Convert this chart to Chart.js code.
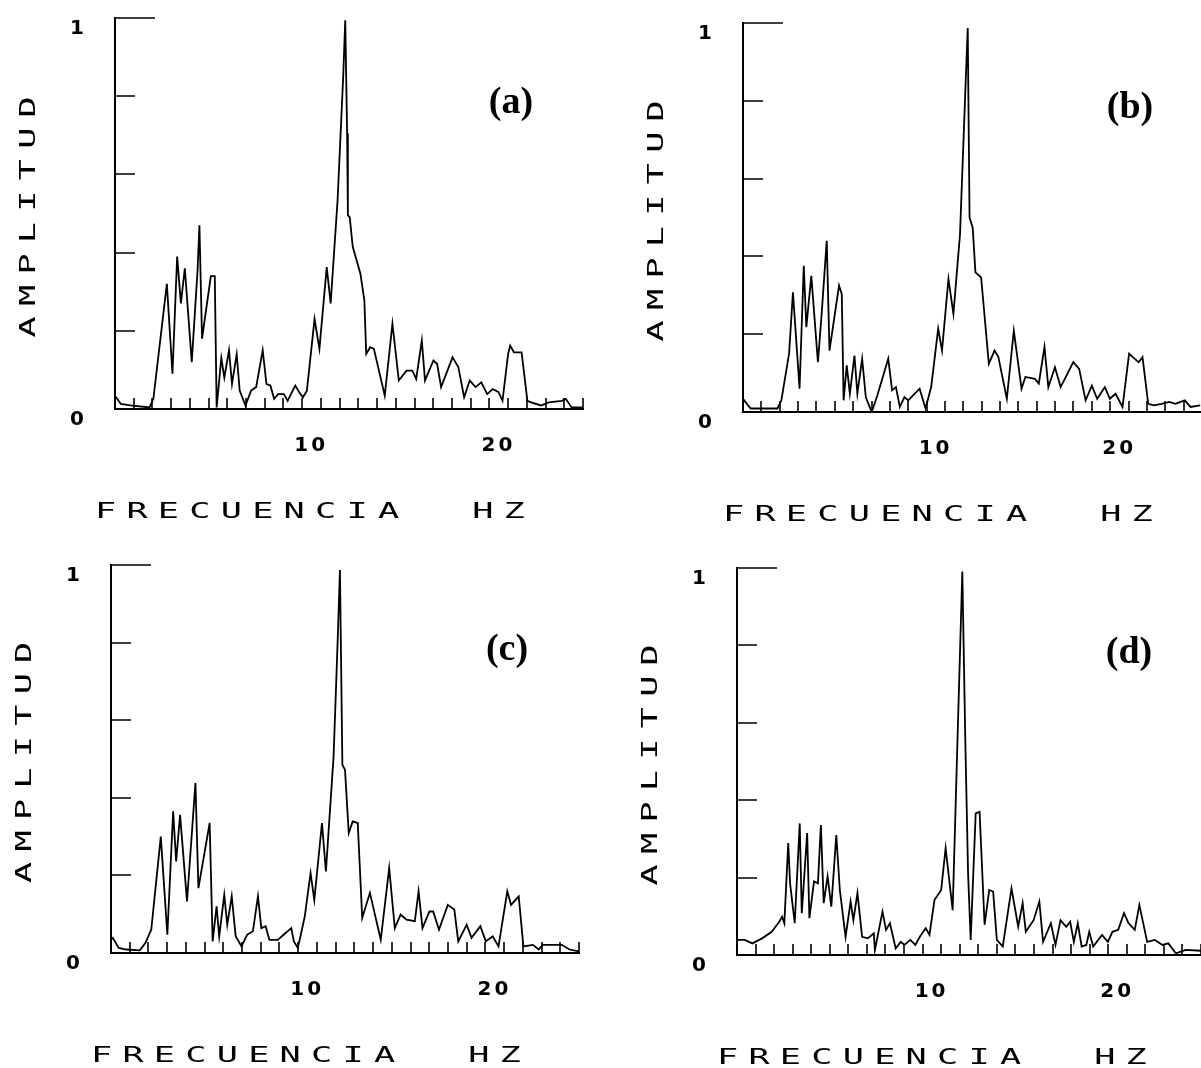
<!DOCTYPE html>
<html>
<head>
<meta charset="utf-8">
<script src="https://cdn.jsdelivr.net/npm/chart.js"></script>
<style>
  html, body { margin: 0; background: #fff; }
  body { width: 1201px; height: 1068px; position: relative; overflow: hidden; }
  canvas { position: absolute; }
</style>
</head>
<body>
<canvas id="panelA" width="600" height="534" style="left:0;top:0"></canvas>
<canvas id="panelB" width="620" height="534" style="left:600px;top:0"></canvas>
<canvas id="panelC" width="600" height="534" style="left:0;top:534px"></canvas>
<canvas id="panelD" width="620" height="534" style="left:600px;top:534px"></canvas>
<script>
// spectra (frequency in Hz, normalised amplitude)
const freqA = [0, 0.31, 0.82, 1.84, 2.05, 2.77, 3.07, 3.32, 3.52, 3.73, 4.10, 4.41, 4.51, 4.65, 5.12, 5.33, 5.43, 5.68, 5.84, 6.09, 6.25, 6.50, 6.66, 6.97, 7.27, 7.54, 7.89, 8.09, 8.30, 8.50, 8.71, 9.02, 9.22, 9.63, 9.84, 10.04, 10.25, 10.66, 10.92, 11.31, 11.52, 11.89, 12.19, 12.30, 12.40, 12.44, 12.54, 12.70, 13.11, 13.32, 13.42, 13.63, 13.83, 14.41, 14.82, 15.16, 15.57, 15.88, 16.09, 16.39, 16.56, 17.01, 17.21, 17.42, 18.03, 18.34, 18.65, 18.95, 19.26, 19.57, 19.88, 20.18, 20.49, 20.70, 21.00, 21.11, 21.31, 21.72, 22.03, 22.23, 22.75, 23.16, 23.87, 24.08, 24.39, 25.0];
const ampA = [0.034, 0.013, 0.009, 0.004, 0.026, 0.32, 0.09, 0.39, 0.27, 0.36, 0.12, 0.355, 0.47, 0.18, 0.34, 0.34, 0.004, 0.13, 0.08, 0.15, 0.064, 0.14, 0.047, 0.009, 0.047, 0.056, 0.15, 0.064, 0.06, 0.026, 0.038, 0.038, 0.021, 0.06, 0.043, 0.03, 0.047, 0.23, 0.154, 0.363, 0.27, 0.534, 0.85, 0.994, 0.705, 0.496, 0.49, 0.415, 0.346, 0.278, 0.141, 0.158, 0.154, 0.034, 0.218, 0.073, 0.098, 0.098, 0.077, 0.175, 0.073, 0.124, 0.115, 0.056, 0.132, 0.107, 0.03, 0.073, 0.056, 0.068, 0.038, 0.051, 0.043, 0.021, 0.141, 0.162, 0.145, 0.145, 0.021, 0.017, 0.009, 0.017, 0.021, 0.026, 0.004, 0.004];

const freqB = [0, 0.21, 0.42, 1.88, 2.09, 2.51, 2.72, 3.08, 3.31, 3.45, 3.72, 4.08, 4.29, 4.56, 4.71, 5.23, 5.38, 5.48, 5.65, 5.82, 6.07, 6.23, 6.49, 6.69, 7.01, 7.32, 7.91, 8.12, 8.33, 8.54, 8.79, 9.0, 9.62, 9.94, 10.25, 10.63, 10.84, 11.19, 11.46, 11.82, 12.09, 12.24, 12.34, 12.51, 12.66, 12.97, 13.39, 13.70, 13.91, 14.37, 14.75, 15.17, 15.38, 15.90, 16.11, 16.42, 16.63, 16.99, 17.30, 17.99, 18.31, 18.66, 19.0, 19.29, 19.71, 19.98, 20.29, 20.67, 21.03, 21.23, 21.55, 21.76, 22.07, 22.38, 22.80, 23.22, 23.54, 24.06, 24.37, 24.9];
const ampB = [0.034, 0.021, 0.009, 0.009, 0.03, 0.15, 0.308, 0.06, 0.376, 0.218, 0.35, 0.128, 0.256, 0.44, 0.158, 0.325, 0.303, 0.03, 0.12, 0.047, 0.145, 0.047, 0.137, 0.038, 0.0, 0.043, 0.137, 0.056, 0.064, 0.013, 0.038, 0.03, 0.06, 0.009, 0.064, 0.214, 0.158, 0.342, 0.252, 0.457, 0.8, 0.987, 0.5, 0.474, 0.359, 0.346, 0.124, 0.158, 0.141, 0.034, 0.209, 0.06, 0.09, 0.085, 0.073, 0.167, 0.064, 0.115, 0.064, 0.128, 0.111, 0.03, 0.068, 0.034, 0.064, 0.034, 0.047, 0.013, 0.15, 0.141, 0.128, 0.141, 0.021, 0.017, 0.021, 0.026, 0.021, 0.03, 0.013, 0.017];

const freqC = [0, 0.10, 0.41, 0.82, 1.54, 1.84, 2.15, 2.66, 3.01, 3.32, 3.48, 3.69, 4.06, 4.51, 4.67, 5.27, 5.43, 5.64, 5.78, 6.05, 6.21, 6.45, 6.66, 6.97, 7.27, 7.58, 7.85, 8.03, 8.26, 8.46, 8.91, 9.22, 9.63, 9.77, 9.98, 10.14, 10.35, 10.66, 10.86, 11.27, 11.48, 11.89, 12.11, 12.23, 12.36, 12.50, 12.70, 12.91, 13.18, 13.42, 13.83, 14.41, 14.86, 15.16, 15.47, 15.78, 16.23, 16.43, 16.64, 17.01, 17.21, 17.52, 17.99, 18.34, 18.55, 19.0, 19.26, 19.73, 20.02, 20.39, 20.70, 21.17, 21.37, 21.78, 22.03, 22.54, 22.85, 23.05, 23.67, 24.08, 24.49, 25.0];
const ampC = [0.034, 0.039, 0.013, 0.009, 0.007, 0.026, 0.06, 0.30, 0.047, 0.365, 0.236, 0.356, 0.133, 0.438, 0.167, 0.335, 0.03, 0.12, 0.043, 0.15, 0.073, 0.146, 0.043, 0.017, 0.047, 0.056, 0.146, 0.064, 0.069, 0.034, 0.034, 0.047, 0.064, 0.03, 0.013, 0.047, 0.094, 0.206, 0.137, 0.335, 0.21, 0.506, 0.807, 0.987, 0.485, 0.472, 0.309, 0.339, 0.335, 0.09, 0.155, 0.034, 0.219, 0.064, 0.099, 0.086, 0.082, 0.159, 0.064, 0.107, 0.107, 0.06, 0.124, 0.112, 0.03, 0.073, 0.039, 0.069, 0.03, 0.043, 0.017, 0.159, 0.124, 0.146, 0.017, 0.021, 0.009, 0.021, 0.021, 0.021, 0.009, 0.004];

const freqD = [0, 0.41, 0.83, 1.35, 1.87, 2.28, 2.43, 2.55, 2.76, 2.86, 3.11, 3.38, 3.49, 3.78, 3.90, 4.15, 4.36, 4.52, 4.67, 4.88, 5.08, 5.35, 5.54, 5.85, 6.12, 6.27, 6.49, 6.74, 7.05, 7.37, 7.43, 7.84, 8.03, 8.24, 8.55, 8.82, 9.02, 9.34, 9.61, 9.85, 10.17, 10.37, 10.64, 11.0, 11.24, 11.62, 11.89, 12.14, 12.30, 12.45, 12.59, 12.86, 13.07, 13.34, 13.59, 13.80, 14.0, 14.32, 14.79, 15.15, 15.39, 15.56, 15.98, 16.29, 16.49, 16.91, 17.16, 17.43, 17.74, 17.95, 18.15, 18.36, 18.57, 18.82, 18.98, 19.19, 19.67, 19.98, 20.23, 20.54, 20.85, 21.1, 21.43, 21.68, 22.10, 22.51, 22.93, 23.24, 23.65, 24.17, 25.0];
const ampD = [0.039, 0.039, 0.03, 0.043, 0.06, 0.086, 0.099, 0.082, 0.289, 0.185, 0.082, 0.34, 0.108, 0.315, 0.095, 0.19, 0.185, 0.336, 0.134, 0.203, 0.125, 0.31, 0.168, 0.047, 0.138, 0.09, 0.16, 0.047, 0.043, 0.056, 0.013, 0.112, 0.065, 0.082, 0.017, 0.034, 0.026, 0.039, 0.026, 0.047, 0.069, 0.052, 0.142, 0.168, 0.276, 0.116, 0.573, 0.991, 0.556, 0.211, 0.039, 0.366, 0.37, 0.078, 0.168, 0.164, 0.039, 0.022, 0.172, 0.073, 0.134, 0.06, 0.09, 0.138, 0.034, 0.082, 0.026, 0.09, 0.073, 0.086, 0.034, 0.082, 0.022, 0.026, 0.06, 0.022, 0.052, 0.034, 0.06, 0.065, 0.108, 0.082, 0.065, 0.129, 0.034, 0.039, 0.026, 0.03, 0.004, 0.013, 0.011];

const xTickLabels = [10, 20];
const yTickLabels = [0, 1];
const xTitle = "FRECUENCIA  HZ";
const yTitle = "AMPLITUD";

// plotter look: inward tick marks, stretched letters, panel tag
const plotter = {
  id: "plotter",
  beforeDraw(chart) {
    chart.ctx.letterSpacing = "3px";
  },
  afterDatasetsDraw(chart) {
    const { ctx, chartArea: a, scales: { x, y } } = chart;
    ctx.save();
    ctx.strokeStyle = "#000";
    ctx.lineWidth = 1.6;
    ctx.beginPath();
    x.ticks.forEach(t => {
      if (t.value <= 0) return;
      const px = Math.round(x.getPixelForValue(t.value));
      ctx.moveTo(px, a.bottom);
      ctx.lineTo(px, a.bottom - 11);
    });
    y.ticks.forEach(t => {
      if (t.value <= 0) return;
      const py = Math.round(y.getPixelForValue(t.value));
      ctx.moveTo(a.left, py);
      ctx.lineTo(a.left + (t.value >= 1 ? 40 : 20), py);
    });
    ctx.stroke();
    ctx.restore();
  },
  afterDraw(chart, args, opts) {
    const { ctx, chartArea: a } = chart;
    ctx.save();
    ctx.fillStyle = "#000";
    ctx.font = "22px 'DejaVu Sans Mono'";
    ctx.letterSpacing = "6.4px";
    ctx.textBaseline = "middle";

    ctx.save();
    ctx.translate(a.left - 20, a.bottom + 103);
    ctx.scale(1.6, 1);
    ctx.textAlign = "left";
    ctx.fillText(xTitle, 0, 0);
    ctx.restore();

    ctx.save();
    ctx.translate(a.left - 86, (a.top + a.bottom) / 2 + 3);
    ctx.rotate(-Math.PI / 2);
    ctx.scale(1.6, 1);
    ctx.textAlign = "center";
    ctx.fillText(yTitle, 3, 0);
    ctx.restore();

    ctx.letterSpacing = "0px";
    ctx.font = "bold 38px 'Liberation Serif'";
    ctx.textAlign = "center";
    ctx.fillText(opts.label, a.right - 72, a.top + 85);
    ctx.restore();
  }
};

const tickFont = { family: "'DejaVu Sans'", size: 20, weight: "bold" };

function makePanel(id, freq, amp, label, box) {
  const canvas = document.getElementById(id);
  return new Chart(canvas, {
    type: "line",
    data: {
      datasets: [{
        data: freq.map((f, i) => ({ x: f, y: amp[i] })),
        borderColor: "#000",
        borderWidth: 1.8,
        pointRadius: 0,
        tension: 0,
        fill: false
      }]
    },
    options: {
      responsive: false,
      animation: false,
      devicePixelRatio: 1,
      layout: { padding: { left: 0, top: box.top, right: canvas.width - box.right, bottom: 0 } },
      plugins: {
        legend: { display: false },
        tooltip: { enabled: false },
        plotter: { label }
      },
      scales: {
        x: {
          type: "linear",
          min: 0,
          max: 25,
          afterFit: s => {
            s.height = canvas.height - box.bottom;
            s.paddingLeft = 0;
            s.paddingRight = 0;
          },
          grid: { drawOnChartArea: false, drawTicks: false },
          border: { color: "#000", width: 2 },
          ticks: {
            stepSize: 1,
            autoSkip: false,
            maxRotation: 0,
            padding: 25,
            labelOffset: 9,
            color: "#000",
            font: tickFont,
            callback: v => xTickLabels.includes(v) ? String(v) : ""
          }
        },
        y: {
          type: "linear",
          min: 0,
          max: 1,
          afterFit: s => {
            s.width = box.left;
            s.paddingTop = 0;
            s.paddingBottom = 0;
          },
          grid: { drawOnChartArea: false, drawTicks: false },
          border: { color: "#000", width: 2 },
          ticks: {
            stepSize: 0.2,
            padding: 28,
            labelOffset: 11,
            color: "#000",
            font: tickFont,
            callback: v => yTickLabels.includes(v) ? String(v) : ""
          }
        }
      }
    },
    plugins: [plotter]
  });
}

makePanel("panelA", freqA, ampA, "(a)", { left: 115, top: 18, right: 583, bottom: 409 });
makePanel("panelB", freqB, ampB, "(b)", { left: 143, top: 23, right: 602, bottom: 412 });
makePanel("panelC", freqC, ampC, "(c)", { left: 111, top: 31, right: 579, bottom: 419 });
makePanel("panelD", freqD, ampD, "(d)", { left: 137, top: 34, right: 601, bottom: 421 });
</script>
</body>
</html>
